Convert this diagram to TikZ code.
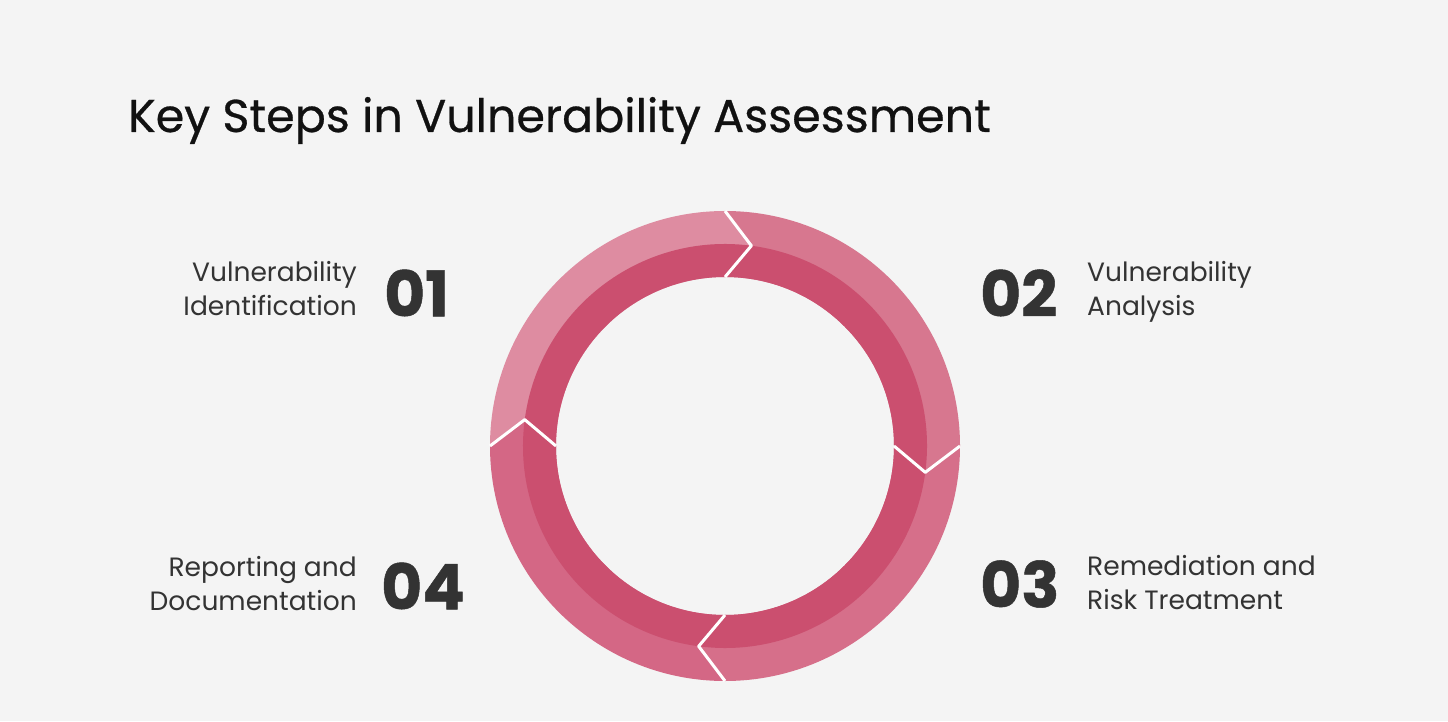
\documentclass[tikz,border=0pt]{standalone}
\usepackage{fontspec}
\setmainfont{Poppins}
\newfontfamily\headfont[FakeBold=0.6]{Poppins}
\newfontfamily\numfont[FakeBold=0.8]{Poppins}
\usetikzlibrary{positioning}
\definecolor{pageGrey}{HTML}{F4F4F4}
\definecolor{titleInk}{HTML}{111111}
\definecolor{labelInk}{HTML}{333333}
\definecolor{ringDark}{HTML}{CB4F6F}
\definecolor{ringOne}{HTML}{DE8CA1}
\definecolor{ringTwo}{HTML}{D7778F}
\definecolor{ringThree}{HTML}{D66F8A}
\definecolor{ringFour}{HTML}{D46785}
\newcommand{\ringOut}{235}
\newcommand{\ringMid}{202}
\newcommand{\ringIn}{169}
\newcommand{\tipShift}{7.5}
% one arrow piece of the ring: from angle #1 clockwise to angle #2
\newcommand{\ringPiece}[3]{%
  \fill[#3] (#1:\ringOut) arc[start angle=#1, end angle=#2, radius=\ringOut]
    -- ({#2-\tipShift}:\ringMid) -- (#2:\ringIn)
    arc[start angle=#2, end angle=#1, radius=\ringIn]
    -- ({#1-\tipShift}:\ringMid) -- cycle;
  \fill[ringDark] ({#1-\tipShift}:\ringMid)
    arc[start angle={#1-\tipShift}, end angle={#2-\tipShift}, radius=\ringMid]
    -- (#2:\ringIn) arc[start angle=#2, end angle=#1, radius=\ringIn] -- cycle;
}

\begin{document}
\begin{tikzpicture}[x=1pt, y=1pt]
  \tikzset{
    title/.style={font=\headfont\fontsize{46}{52}\selectfont, text=titleInk, inner sep=0pt},
    stepnum/.style={font=\numfont\bfseries\fontsize{63}{66}\selectfont, text=labelInk, inner sep=0pt},
    steptext/.style={font=\fontsize{26.5}{34}\selectfont, text=labelInk, inner sep=0pt},
    gapline/.style={white, line width=3pt, line join=round}
  }
  \fill[pageGrey] (0,0) rectangle (1448,721);
  \useasboundingbox (0,0) rectangle (1448,721);

  \node[title, anchor=base west] (head) at (128,589) {Key Steps in Vulnerability Assessment};

  \begin{scope}[shift={(725,275)}]
    \ringPiece{180}{90}{ringOne}
    \ringPiece{90}{0}{ringTwo}
    \ringPiece{0}{-90}{ringThree}
    \ringPiece{-90}{-180}{ringFour}
    \foreach \g in {90,0,-90,180}
      \draw[gapline] (\g:\ringOut) -- ({\g-\tipShift}:\ringMid) -- (\g:\ringIn);
  \end{scope}

  \node[stepnum, anchor=west] (num-1) at (384,428) {01};
  \node[stepnum, anchor=west] (num-2) at (980,428) {02};
  \node[stepnum, anchor=west] (num-3) at (980,137) {03};
  \node[stepnum, anchor=west] (num-4) at (381,135) {04};

  \node[steptext, anchor=base east, align=right] (text-1) at (357,405) {Vulnerability\\Identification};
  \node[steptext, anchor=base west, align=left] (text-2) at (1087,405) {Vulnerability\\Analysis};
  \node[steptext, anchor=base west, align=left] (text-3) at (1087,112) {Remediation and\\Risk Treatment};
  \node[steptext, anchor=base east, align=right] (text-4) at (357,111) {Reporting and\\Documentation};
\end{tikzpicture}
\end{document}
